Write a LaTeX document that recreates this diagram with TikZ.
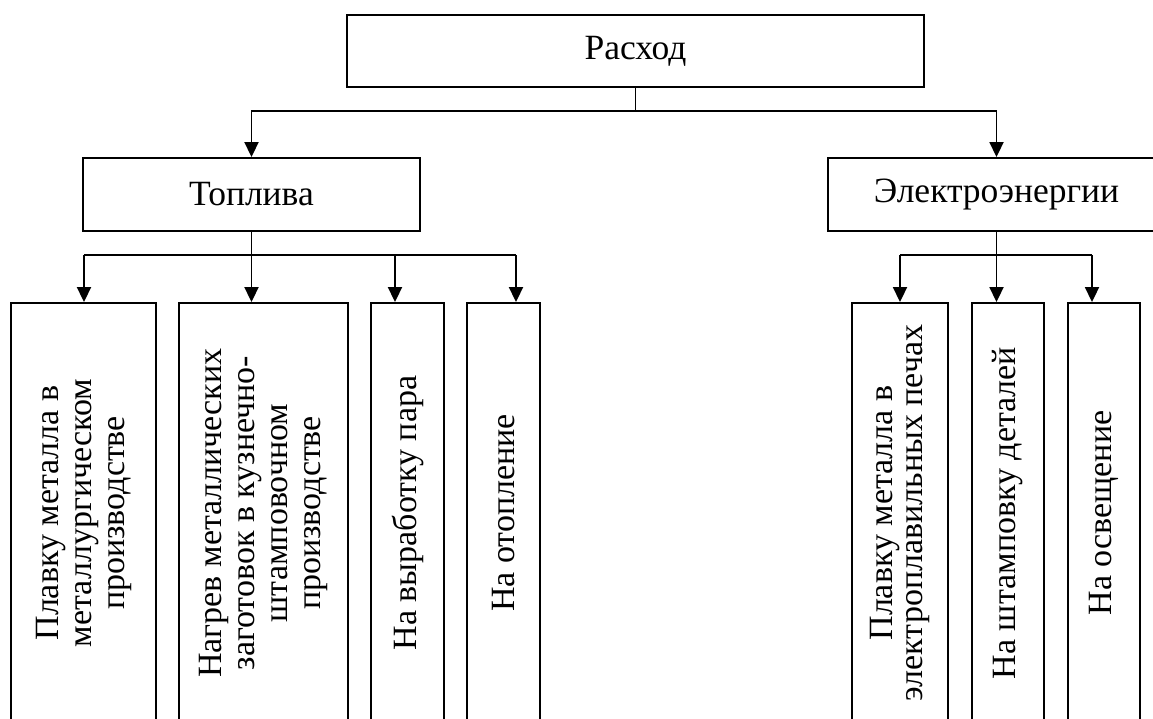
\documentclass[tikz,border=0pt]{standalone}
\usepackage{fontspec}
\setmainfont{Liberation Serif}
\usetikzlibrary{arrows.meta}
\begin{document}
\begin{tikzpicture}[x=1pt,y=-1pt,
  hbox/.style={draw, line width=1.9pt, inner sep=0pt, font=\fontsize{35.5}{36}\selectfont},
  vbox/.style={draw, line width=1.9pt, inner sep=0pt, rotate=90, align=center,
    minimum width=420pt, font=\fontsize{34}{33}\selectfont},
  stem/.style={line width=1.2pt},
  bar/.style={line width=1.9pt},
  conn/.style={line width=1.9pt, -{Triangle[length=15pt,width=14pt]}}]
\clip (0,0) rectangle (1153,718);
% top level
\node[hbox, minimum width=577pt, minimum height=72pt] (top) at (635.5,51) {Расход};
\node[hbox, minimum width=337pt, minimum height=73pt] (topl) at (251.5,194.5) {Топлива};
\node[hbox, minimum width=337pt, minimum height=73pt] (elec) at (996.5,194.5) {Электроэнергии};
% bottom boxes
\node[vbox, minimum height=145pt] (b1) at (83.5,513) {Плавку металла в\\металлургическом\\производстве};
\node[vbox, minimum height=169pt] (b2) at (263.5,513) {Нагрев металлических\\заготовок в кузнечно-\\штамповочном\\производстве};
\node[vbox, minimum height=73pt] (b3) at (407.5,513) {На выработку пара};
\node[vbox, minimum height=73pt] (b4) at (503.5,513) {На отопление};
\node[vbox, minimum height=96pt, font=\fontsize{34}{30}\selectfont] (b5) at (900,513) {Плавку металла в\\электроплавильных печах};
\node[vbox, minimum height=72pt] (b6) at (1008,513) {На штамповку деталей};
\node[vbox, minimum height=72pt] (b7) at (1104,513) {На освещение};
% connectors top -> second level
\coordinate (r) at (635.5,111);
\draw[stem] (top.south) -- (r);
\draw[conn] (r) -| (topl.north);
\draw[conn] (r) -| (elec.north);
% Топлива -> its boxes
\coordinate (a1) at (84,255);
\coordinate (a2) at (251.5,255);
\coordinate (a3) at (395,255);
\coordinate (a4) at (516,255);
\draw[stem] (topl.south) -- (a2);
\draw[bar] (a1) -- (a4);
\draw[conn] (a1) -- (a1 |- b1.east);
\draw[conn] (a2) -- (a2 |- b2.east);
\draw[conn] (a3) -- (a3 |- b3.east);
\draw[conn] (a4) -- (a4 |- b4.east);
% Электроэнергии -> its boxes
\coordinate (e1) at (900,255);
\coordinate (e2) at (996.5,255);
\coordinate (e3) at (1092,255);
\draw[stem] (elec.south) -- (e2);
\draw[bar] (e1) -- (e3);
\draw[conn] (e1) -- (e1 |- b5.east);
\draw[conn] (e2) -- (e2 |- b6.east);
\draw[conn] (e3) -- (e3 |- b7.east);
\end{tikzpicture}
\end{document}
